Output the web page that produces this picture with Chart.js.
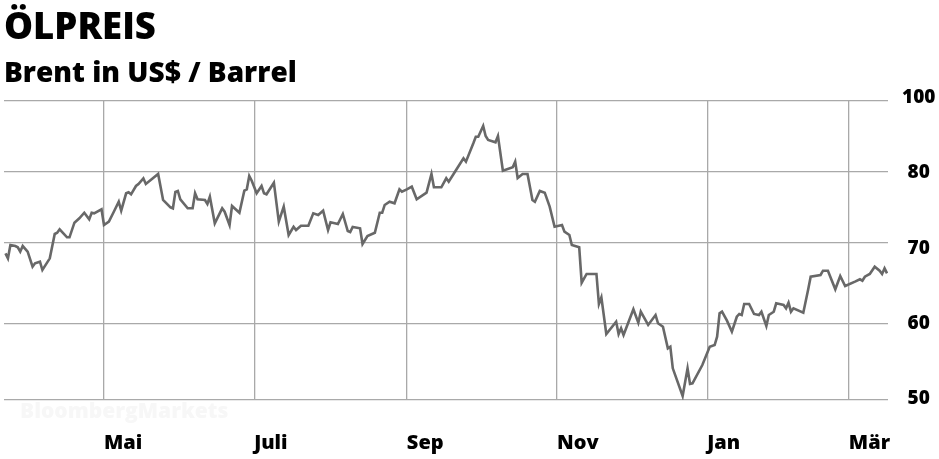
<!DOCTYPE html>
<html>
<head>
<meta charset="utf-8">
<script src="https://cdn.jsdelivr.net/npm/chart.js@4.4.1/dist/chart.umd.min.js"></script>
<style>
html,body{margin:0;padding:0;background:#fff;}
#wrap{width:939px;height:459px;position:relative;}
</style>
</head>
<body>
<div id="wrap"><canvas id="c" width="939" height="459"></canvas></div>
<script>
// ---- texts ----
const titleText = 'ÖLPREIS';
const subtitleText = 'Brent in US$ / Barrel';
const watermarkText = 'BloombergMarkets';

// ---- x: days since 1 Apr 2018 ----
const days = [-10,-9,-8,-6,-5,-4,-3,-1,1,2,4,5,8,10,11,12,15,16,18,20,22,24,25,26,29,30,32,34,36,37,
  39,40,41,43,44,46,47,52,54,57,58,59,60,61,64,66,67,68,71,72,73,75,78,79,81,82,85,87,88,89,
  90,92,94,95,96,99,101,103,105,107,108,110,113,115,117,119,121,122,125,127,129,130,131,134,135,137,140,142,143,144,
  146,148,150,151,153,155,157,161,163,164,167,169,170,173,176,177,180,181,182,184,185,186,189,190,192,196,197,198,200,202,
  204,205,207,209,211,213,216,217,219,220,223,224,226,230,231,232,234,238,239,240,241,245,247,248,251,254,255,257,259,260,
  261,265,267,268,269,273,276,278,279,280,281,283,285,287,288,289,290,292,294,296,297,299,300,302,303,306,307,308,309,310,
  314,316,317,321,322,324,327,329,331,335,337,338,339,341,343,345,346,347,348];

// ---- Brent price, US$ per barrel ----
const prices = [68.64,68.02,69.67,69.54,69.38,68.84,69.54,68.84,66.99,67.41,67.60,66.58,68.02,71.17,71.35,71.83,70.70,70.70,72.76,73.38,
  74.16,73.23,74.16,74.08,74.64,72.43,72.90,74.30,75.71,74.44,76.89,77.03,76.75,77.92,78.20,79.00,78.20,79.61,75.95,74.92,
  74.78,77.07,77.22,76.05,74.78,74.78,76.89,76.05,75.95,75.39,76.41,72.67,74.78,74.30,72.43,75.11,74.16,77.26,77.45,79.32,
  78.66,76.89,77.92,76.89,76.75,78.38,72.90,75.01,71.03,72.19,71.73,72.33,72.33,74.08,73.84,74.44,71.73,72.81,72.57,73.98,
  71.59,71.45,72.15,71.97,69.79,70.89,71.35,74.16,74.16,75.25,75.71,75.49,77.45,77.12,77.45,77.82,76.05,76.98,79.61,77.74,
  77.74,79.00,78.52,80.17,81.83,81.35,83.96,84.89,84.89,86.41,84.99,84.43,84.10,84.99,80.07,80.55,81.35,79.04,79.61,79.61,
  75.95,75.71,77.22,76.98,75.01,72.19,72.43,71.49,71.03,69.67,69.38,65.01,66.09,66.09,62.38,63.21,58.60,60.20,58.60,59.35,
  58.47,61.73,60.07,61.43,59.78,61.02,60.00,59.56,56.74,56.95,54.13,50.52,54.13,52.09,52.18,54.56,56.95,57.17,58.25,61.23,
  61.43,60.32,58.90,60.81,61.15,61.02,62.38,62.38,61.15,61.02,61.43,59.65,61.02,61.43,62.47,62.26,61.85,62.54,61.43,61.85,
  61.31,64.20,65.75,65.96,66.49,66.49,64.20,65.84,64.60,65.14,65.43,65.26,65.75,66.09,66.99,66.49,66.09,66.79,66.17];

// ---- axis ticks ----
const monthDays = [30, 91, 153, 214, 275, 332.5];
const monthLabels = ['Mai', 'Juli', 'Sep', 'Nov', 'Jan', 'Mär'];
const gridValues = [50, 60, 70, 80, 90];
const yTickValues = [50, 60, 70, 80, 90];
const yTickLabels = ['50', '60', '70', '80', '100'];

// grid position of each level as a fraction of the plot height (as drawn in the original)
const knotValues = [50, 60, 70, 80, 90];
const knotFractions = [0, 0.2563, 0.5269, 0.7645, 1];

function valueToFraction(v) {
  if (v <= knotValues[0]) return knotFractions[0] + (v - knotValues[0]) * (knotFractions[1] - knotFractions[0]) / (knotValues[1] - knotValues[0]);
  for (let i = 1; i < knotValues.length; i++) {
    if (v <= knotValues[i]) {
      const t = (v - knotValues[i - 1]) / (knotValues[i] - knotValues[i - 1]);
      return knotFractions[i - 1] + t * (knotFractions[i] - knotFractions[i - 1]);
    }
  }
  const n = knotValues.length - 1;
  return knotFractions[n] + (v - knotValues[n]) * (knotFractions[n] - knotFractions[n - 1]) / (knotValues[n] - knotValues[n - 1]);
}
function fractionToValue(f) {
  for (let i = 1; i < knotFractions.length; i++) {
    if (f <= knotFractions[i] || i === knotFractions.length - 1) {
      const t = (f - knotFractions[i - 1]) / (knotFractions[i] - knotFractions[i - 1]);
      return knotValues[i - 1] + t * (knotValues[i] - knotValues[i - 1]);
    }
  }
}

class PiecewiseScale extends Chart.LinearScale {
  getPixelForValue(value) {
    if (value === null || value === undefined || isNaN(value)) return NaN;
    return this.getPixelForDecimal(valueToFraction(value));
  }
  getValueForPixel(pixel) {
    return fractionToValue(this.getDecimalForPixel(pixel));
  }
}
PiecewiseScale.id = 'piecewise';
PiecewiseScale.defaults = Chart.LinearScale.defaults;
Chart.register(PiecewiseScale);

const watermarkPlugin = {
  id: 'watermark',
  beforeDraw(chart) {
    const ctx = chart.ctx;
    ctx.save();
    ctx.font = '800 21px "Open Sans"';
    ctx.fillStyle = '#f7f7f7';
    ctx.textBaseline = 'alphabetic';
    ctx.textAlign = 'left';
    ctx.fillText(watermarkText, 20, 418);
    ctx.restore();
  }
};

const FONT = '"Open Sans", "Liberation Sans", sans-serif';

new Chart(document.getElementById('c'), {
  type: 'line',
  data: {
    datasets: [{
      data: days.map((d, i) => ({ x: d, y: prices[i] })),
      borderColor: '#686868',
      borderWidth: 2.6,
      pointRadius: 0,
      tension: 0,
      fill: false,
      xAxisID: 'x',
      yAxisID: 'y'
    }]
  },
  options: {
    responsive: false,
    animation: false,
    devicePixelRatio: 1,
    layout: { padding: { left: 4, right: 0, top: 0, bottom: 0 } },
    plugins: {
      legend: { display: false },
      tooltip: { enabled: false },
      title: {
        display: true, text: titleText, align: 'start', color: '#000',
        font: { family: FONT, size: 36.5, weight: '800', lineHeight: 1.2 },
        padding: { top: 6.5, bottom: 0 }
      },
      subtitle: {
        display: true, text: subtitleText, align: 'start', color: '#000',
        font: { family: FONT, size: 28, weight: '800', lineHeight: 1.2 },
        padding: { top: 6.5, bottom: 10.3 }
      }
    },
    scales: {
      x: {
        type: 'linear', position: 'bottom', min: -10.6, max: 348.4,
        afterBuildTicks: s => { s.ticks = monthDays.map(v => ({ value: v })); },
        afterFit: s => { s.height = 59; },
        grid: { color: '#a9a9a9', lineWidth: 1.3, drawTicks: false },
        border: { display: false },
        ticks: {
          autoSkip: false, maxRotation: 0, minRotation: 0, align: 'start', padding: 31,
          color: '#000', font: { family: FONT, size: 20, weight: '800' },
          callback: (v, i) => monthLabels[i]
        }
      },
      y: {
        type: 'piecewise', position: 'right', min: 50, max: 90,
        afterBuildTicks: s => { s.ticks = gridValues.map(v => ({ value: v })); },
        afterFit: s => { s.width = 0; },
        grid: { color: '#a9a9a9', lineWidth: 1.3, drawTicks: false },
        border: { display: false },
        ticks: { display: false }
      },
      yLabels: {
        type: 'linear', position: 'right', min: 49.87, max: 89.58,
        afterBuildTicks: s => { s.ticks = yTickValues.map(v => ({ value: v })); },
        afterFit: s => { s.width = 51; },
        grid: { display: false, drawTicks: false },
        border: { display: false },
        ticks: {
          padding: 14, crossAlign: 'center', color: '#000',
          font: { family: FONT, size: 19, weight: '800' },
          callback: (v, i) => yTickLabels[i]
        }
      }
    }
  },
  plugins: [watermarkPlugin]
});
</script>
</body>
</html>
